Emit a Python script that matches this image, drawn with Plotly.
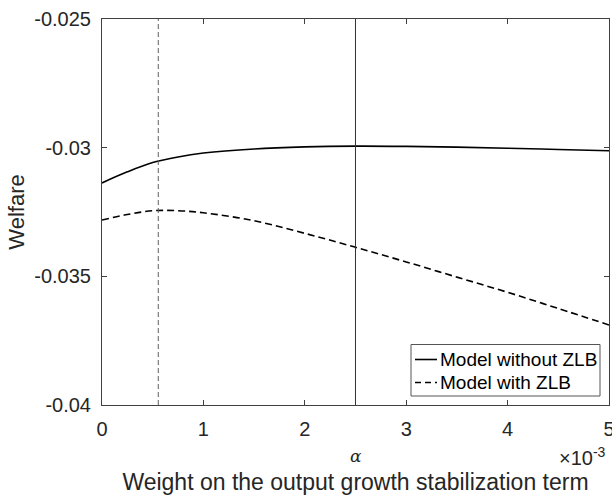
import plotly.graph_objects as go

# ---- data ----
alpha = [0.0, 0.00025, 0.0005, 0.00075, 0.001, 0.0015, 0.002, 0.0025,
         0.003, 0.0035, 0.004, 0.0045, 0.005]
welfare_no_zlb = [-0.03137, -0.03094, -0.03058, -0.03036, -0.03021, -0.03005,
                  -0.02997, -0.02994, -0.02995, -0.02998, -0.03002, -0.03007,
                  -0.03012]
welfare_zlb = [-0.03281, -0.03260, -0.03245, -0.03245, -0.03253, -0.03284,
               -0.03333, -0.03387, -0.03444, -0.03503, -0.03562, -0.03625,
               -0.03689]
alpha_opt_zlb = 0.000555
alpha_opt_no_zlb = 0.0025

x_tickvals = [0, 0.001, 0.002, 0.003, 0.004, 0.005]
x_ticktext = ["0", "1", "2", "3", "4", "5"]
y_tickvals = [-0.04, -0.035, -0.03, -0.025]
y_ticktext = ["-0.04", "-0.035", "-0.03", "-0.025"]
legend_names = ["Model without ZLB", "Model with ZLB"]

FONT = "Liberation Sans, Arial, Helvetica, sans-serif"
AX = "#404040"

fig = go.Figure()
fig.add_trace(go.Scatter(x=alpha, y=welfare_no_zlb, mode="lines",
                         line=dict(color="black", width=1.6, shape="spline"),
                         name=legend_names[0], showlegend=False))
fig.add_trace(go.Scatter(x=alpha, y=welfare_zlb, mode="lines",
                         line=dict(color="black", width=1.6, shape="spline", dash="7px,4px"),
                         name=legend_names[1], showlegend=False))

fig.add_vline(x=alpha_opt_zlb, line=dict(color="#606060", width=1, dash="5px,3px"))
fig.add_vline(x=alpha_opt_no_zlb, line=dict(color="#333333", width=1))

# ---- manual MATLAB-style legend ----
L, T, W, H = 102, 19, 507, 386
def px(x): return (x - L) / W
def py(y): return (T + H - y) / H

fig.add_shape(type="rect", xref="paper", yref="paper",
              x0=px(411), x1=px(600), y0=py(396), y1=py(344.5),
              line=dict(color="#555555", width=1), fillcolor="white", layer="above")
rows = [(359.5, "solid"), (382.5, "6px,4px")]
for (yy, dsh), name in zip(rows, legend_names):
    fig.add_shape(type="line", xref="paper", yref="paper",
                  x0=px(415), x1=px(437), y0=py(yy), y1=py(yy),
                  line=dict(color="black", width=1.6, dash=dsh), layer="above")
    fig.add_annotation(xref="paper", yref="paper", x=px(438), y=py(yy),
                       xanchor="left", yanchor="middle", text=name,
                       showarrow=False, font=dict(family=FONT, size=19, color="black"))

# alpha label and exponent
fig.add_annotation(xref="paper", yref="paper", x=0.5, y=py(456),
                   xanchor="center", yanchor="middle", text="<i>α</i>", showarrow=False,
                   font=dict(family="DejaVu Serif, serif", size=17, color="#262626"))
fig.add_annotation(xref="paper", yref="paper", x=px(557), y=py(456),
                   xanchor="left", yanchor="middle",
                   text="×10<sup>-3</sup>", showarrow=False,
                   font=dict(family=FONT, size=20, color="#262626"))

fig.update_layout(
    width=612, height=497,
    margin=dict(l=102, r=3, t=19, b=92),
    paper_bgcolor="white", plot_bgcolor="white",
    font=dict(family=FONT, size=20, color="#262626"),
    showlegend=False,
)
fig.update_xaxes(range=[0, 0.0050001], tickvals=x_tickvals, ticktext=x_ticktext,
                 ticklabeloverflow="allow", automargin="bottom",
                 showgrid=False, zeroline=False, showline=True, mirror="ticks",
                 linecolor=AX, linewidth=1, ticks="inside", ticklen=5,
                 tickcolor=AX, tickwidth=1, ticklabelstandoff=6,
                 title=dict(text="Weight on the output growth stabilization term",
                            font=dict(size=23), standoff=34))
fig.update_yaxes(range=[-0.04, -0.025], tickvals=y_tickvals, ticktext=y_ticktext,
                 showgrid=False, zeroline=False, showline=True, mirror="ticks",
                 linecolor=AX, linewidth=1, ticks="inside", ticklen=5,
                 tickcolor=AX, tickwidth=1, ticklabelstandoff=6,
                 title=dict(text="Welfare", font=dict(size=22), standoff=3))

fig.write_html("out.html")
